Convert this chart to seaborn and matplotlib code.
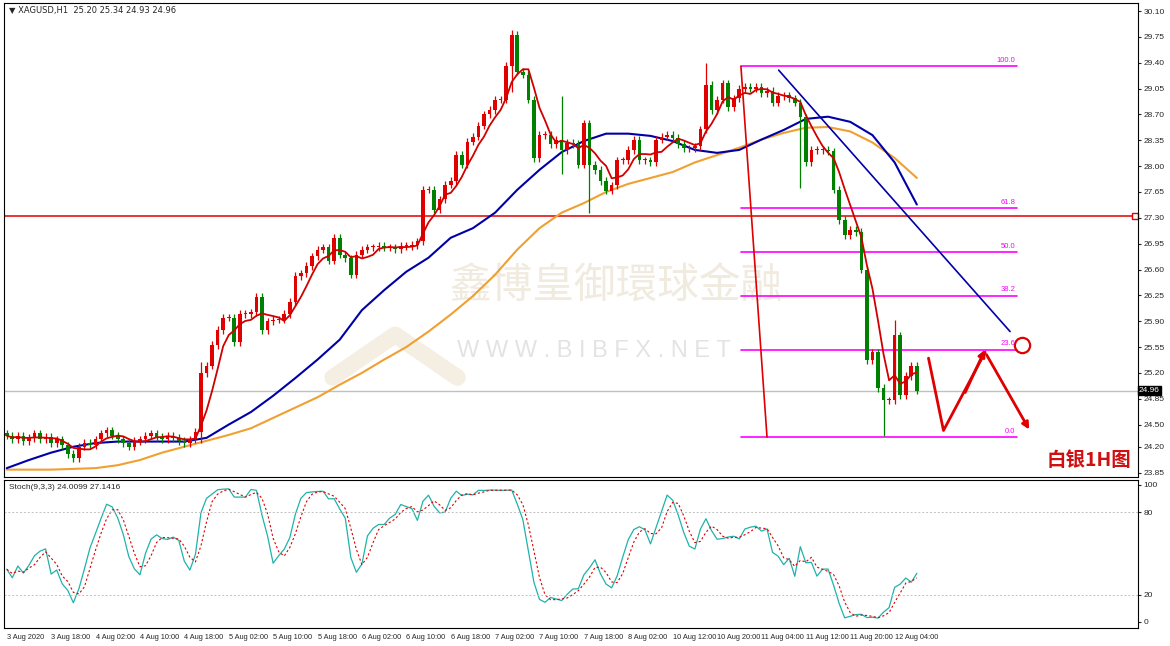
import matplotlib
matplotlib.use("Agg")
import matplotlib.pyplot as plt
import numpy as np
import pandas as pd
import seaborn as sns

# ---- data ----
closes = [
    24.35, 24.30, 24.35, 24.28, 24.32, 24.38, 24.30, 24.33, 24.25, 24.30,
    24.22, 24.10, 24.05, 24.20, 24.25, 24.22, 24.30, 24.38, 24.42, 24.35,
    24.30, 24.25, 24.20, 24.28, 24.30, 24.35, 24.38, 24.33, 24.30, 24.35,
    24.32, 24.28, 24.25, 24.30, 24.40,
    25.20, 25.30, 25.58, 25.78, 25.95,
    25.95, 25.62, 26.00, 26.00, 26.02, 26.23, 25.78, 25.90, 25.92, 25.92,
    26.00, 26.16, 26.51, 26.55, 26.65, 26.78, 26.87, 26.90, 26.72, 27.03,
    26.80, 26.75, 26.53, 26.80, 26.87, 26.90, 26.90, 26.92, 26.90, 26.90,
    26.88, 26.92, 26.92, 26.93, 26.98, 27.68, 27.68, 27.41, 27.55, 27.75,
    27.80, 28.15, 28.02, 28.33,
    28.40, 28.55, 28.70, 28.76, 28.90, 28.90, 29.36, 29.78, 29.28, 29.24,
    28.90, 28.11, 28.42, 28.42, 28.30, 28.36, 28.22, 28.32, 28.30, 28.02,
    28.58, 28.02, 27.95, 27.80, 27.67, 27.74, 28.08, 28.08, 28.22, 28.36,
    28.08, 28.08, 28.05, 28.36, 28.40, 28.42, 28.38, 28.30, 28.24, 28.24,
    28.27, 28.50, 29.10, 28.76, 28.90, 29.12,
    28.80, 28.92, 29.05, 29.07, 29.05, 29.07, 28.99, 29.02, 28.86, 28.95,
    28.96, 28.92, 28.86, 28.66, 28.05, 28.22, 28.22, 28.22, 28.20, 27.68,
    27.27, 27.07, 27.14, 27.11, 26.60, 25.37, 25.48, 24.99, 24.83, 24.83,
    25.71, 24.90, 25.16, 25.30, 24.96,
]
# bars with long wicks: index -> (high, low)
spikes = {35: (25.35, 24.25), 91: (29.85, 29.0), 100: (28.95, 27.9), 105: (28.0, 27.37),
          126: (29.40, 28.6), 158: (25.05, 24.35), 160: (25.92, 24.80), 143: (28.3, 27.7)}

ma_bars = list(range(0, 165, 4))
blue_ma = [23.91, 24.02, 24.12, 24.20, 24.25, 24.27, 24.27, 24.27, 24.27, 24.32,
           24.50, 24.67, 24.89, 25.13, 25.38, 25.65, 26.05, 26.32, 26.57, 26.76,
           27.03, 27.16, 27.37, 27.68, 27.95, 28.19, 28.34, 28.44, 28.44, 28.41,
           28.34, 28.22, 28.18, 28.22, 28.36, 28.49, 28.64, 28.67, 28.60, 28.42,
           28.05, 27.48]
orange_ma = [23.89, 23.89, 23.89, 23.90, 23.91, 23.95, 24.02, 24.12, 24.20, 24.28,
             24.36, 24.45, 24.59, 24.73, 24.87, 25.04, 25.20, 25.38, 25.55, 25.76,
             25.99, 26.24, 26.53, 26.87, 27.16, 27.37, 27.50, 27.65, 27.76, 27.84,
             27.92, 28.05, 28.15, 28.25, 28.36, 28.45, 28.52, 28.53, 28.47, 28.32,
             28.11, 27.84]

tick_labels = ["3 Aug 2020", "3 Aug 18:00", "4 Aug 02:00", "4 Aug 10:00", "4 Aug 18:00",
               "5 Aug 02:00", "5 Aug 10:00", "5 Aug 18:00", "6 Aug 02:00", "6 Aug 10:00",
               "6 Aug 18:00", "7 Aug 02:00", "7 Aug 10:00", "7 Aug 18:00", "8 Aug 02:00",
               "10 Aug 12:00", "10 Aug 20:00", "11 Aug 04:00", "11 Aug 12:00",
               "11 Aug 20:00", "12 Aug 04:00"]

fib_levels = [100.0, 61.8, 50.0, 38.2, 23.6, 0.0]
fib_high, fib_low = 29.35, 24.33
resistance = 27.33
last_price = 24.96
price_ticks = [30.10, 29.75, 29.40, 29.05, 28.70, 28.35, 28.00, 27.65, 27.30, 26.95,
               26.60, 26.25, 25.90, 25.55, 25.20, 24.85, 24.50, 24.20, 23.85]

# ---- build candles ----
n = len(closes)
df = pd.DataFrame({"bar": np.arange(n), "close": closes})
df["open"] = df["close"].shift(1).fillna(df["close"].iloc[0] + 0.03)
df["high"] = df[["open", "close"]].max(axis=1) + 0.05
df["low"] = df[["open", "close"]].min(axis=1) - 0.05
for i, (h, l) in spikes.items():
    df.loc[i, "high"] = max(h, df.loc[i, "high"])
    df.loc[i, "low"] = min(l, df.loc[i, "low"])
df["ma5"] = df["close"].rolling(5, min_periods=1).mean()

# stochastic 9,3,3
hh = df["high"].rolling(9, min_periods=1).max()
ll = df["low"].rolling(9, min_periods=1).min()
k_raw = (df["close"] - ll).rolling(3, min_periods=1).sum() / (hh - ll).rolling(3, min_periods=1).sum() * 100
df["k"] = k_raw
df["d"] = k_raw.rolling(3, min_periods=1).mean()

sns.set_style("white")
plt.rcParams['font.family'] = ['Liberation Sans', 'DejaVu Sans']

fig = plt.figure(figsize=(11.7, 6.46), dpi=100)
ax = fig.add_axes([0.0034, 0.2616, 0.969, 0.7338])
ax2 = fig.add_axes([0.0034, 0.0279, 0.969, 0.2291])

up = df["close"] >= df["open"]
cols = np.where(up, "#e00000", "#008000")
ax.vlines(df["bar"], df["low"], df["high"], colors=cols, linewidth=0.9, zorder=3)
body = (df["close"] - df["open"]).abs().clip(lower=0.012)
ax.bar(df["bar"], body, bottom=df[["open", "close"]].min(axis=1), width=0.65,
       color=cols, linewidth=0, zorder=4)

ma_df = pd.DataFrame({"bar": ma_bars, "blue": blue_ma, "orange": orange_ma})
sns.lineplot(data=ma_df, x="bar", y="orange", ax=ax, color="#f0a030", linewidth=1.5, zorder=2)
sns.lineplot(data=ma_df, x="bar", y="blue", ax=ax, color="#0000a8", linewidth=1.5, zorder=2)
sns.lineplot(data=df, x="bar", y="ma5", ax=ax, color="#d00000", linewidth=1.3, zorder=5)

x_max = 203.8
ax.set_xlim(-0.5, x_max)
ax.set_ylim(23.79, 30.21)

# horizontal lines
ax.axhline(resistance, color="#e00000", linewidth=1.1, zorder=1)
ax.plot([x_max - 0.4], [resistance], marker="s", mfc="white", mec="#e00000", ms=4, clip_on=False)
ax.axhline(last_price, color="#c0c0c0", linewidth=1.0, zorder=1)

# fibonacci
fx0, fx1 = 132.3, 182.0
for lv in fib_levels:
    p = fib_low + (fib_high - fib_low) * lv / 100
    ax.plot([fx0, fx1], [p, p], color="#ff00ff", linewidth=1.2, zorder=2)
    ax.text(fx1 - 0.3, p + 0.03, f"{lv:.1f}", color="#ff00ff", fontsize=5.5, ha="right", va="bottom")
ax.plot([fx0, 137.0], [fib_high, fib_low], color="#e00000", linewidth=1.2, zorder=2)

# trend line
ax.plot([139.1, 180.8], [29.30, 25.76], color="#0000a8", linewidth=1.2, zorder=2)

# projected path
ax.plot([166.1, 168.8, 176.3], [25.40, 24.42, 25.48], color="#e00000", linewidth=2, zorder=6)
ax.annotate("", xy=(176.5, 25.55), xytext=(172.5, 24.90),
            arrowprops=dict(arrowstyle="-|>", color="#e00000", lw=2, mutation_scale=10))
ax.annotate("", xy=(184.5, 24.40), xytext=(176.3, 25.48),
            arrowprops=dict(arrowstyle="-|>", color="#e00000", lw=2, mutation_scale=10))
ax.plot([182.9], [25.58], marker="o", ms=11, mfc="none", mec="#e00000", mew=1.6)

ax.text(0.994, 0.015, "白银1H图", transform=ax.transAxes, color="#d01010", fontsize=14,
        fontweight="bold", ha="right", va="bottom", family=["Noto Sans CJK SC", "DejaVu Sans"])

# watermark
ax.text(0.54, 0.40, "鑫博皇御環球金融", transform=ax.transAxes, color="#e8dccb", fontsize=30,
        ha="center", va="center", alpha=0.6, family=["Noto Sans CJK SC", "DejaVu Sans"], zorder=0)
ax.text(0.52, 0.265, "W W W . B I B F X . N E T", transform=ax.transAxes, color="#dcdcdc",
        fontsize=17, ha="center", va="center", alpha=0.8, zorder=0)
ax.plot([0.29, 0.345, 0.40], [0.21, 0.30, 0.21], transform=ax.transAxes, color="#efe3cf",
        linewidth=12, alpha=0.6, zorder=0)

ax.text(0.004, 0.993, "▼ XAGUSD,H1  25.20 25.34 24.93 24.96", transform=ax.transAxes,
        fontsize=6, va="top", ha="left", family=["DejaVu Sans"])

ax.yaxis.tick_right()
ax.set_yticks(price_ticks)
ax.set_yticklabels([f"{t:.2f}" for t in price_ticks], fontsize=6)
ax.set_xticks([])
ax.set_xlabel("")
ax.set_ylabel("")
ax.text(1.001, (last_price - 23.79) / (30.21 - 23.79), f"{last_price:.2f}", transform=ax.transAxes,
        fontsize=6, color="white", va="center", ha="left",
        bbox=dict(boxstyle="square,pad=0.15", fc="black", ec="black"))
ax.tick_params(axis="y", length=2, pad=2)

# stochastic panel
sns.lineplot(data=df, x="bar", y="k", ax=ax2, color="#20b2aa", linewidth=0.9)
sns.lineplot(data=df, x="bar", y="d", ax=ax2, color="#e00000", linewidth=0.8, linestyle=(0, (2, 2)))
for lv in [20, 80]:
    ax2.axhline(lv, color="#c0c0c0", linewidth=0.7, linestyle=(0, (2, 2)))
ax2.set_xlim(-0.5, x_max)
ax2.set_ylim(-4.4, 103.6)
ax2.yaxis.tick_right()
ax2.set_yticks([100, 80, 20, 0])
ax2.set_yticklabels(["100", "80", "20", "0"], fontsize=6)
ax2.set_xticks(list(range(0, 8 * len(tick_labels), 8)))
ax2.set_xticklabels(tick_labels, fontsize=5.3, ha="left")
ax2.tick_params(axis="both", length=2, pad=2)
ax2.set_xlabel("")
ax2.set_ylabel("")
ax2.text(0.004, 0.97, "Stoch(9,3,3) 24.0099 27.1416", transform=ax2.transAxes,
         fontsize=6, va="top", ha="left")

for a in (ax, ax2):
    for s in a.spines.values():
        s.set_color("black")
        s.set_linewidth(0.8)

fig.savefig("out.png", dpi=100)
